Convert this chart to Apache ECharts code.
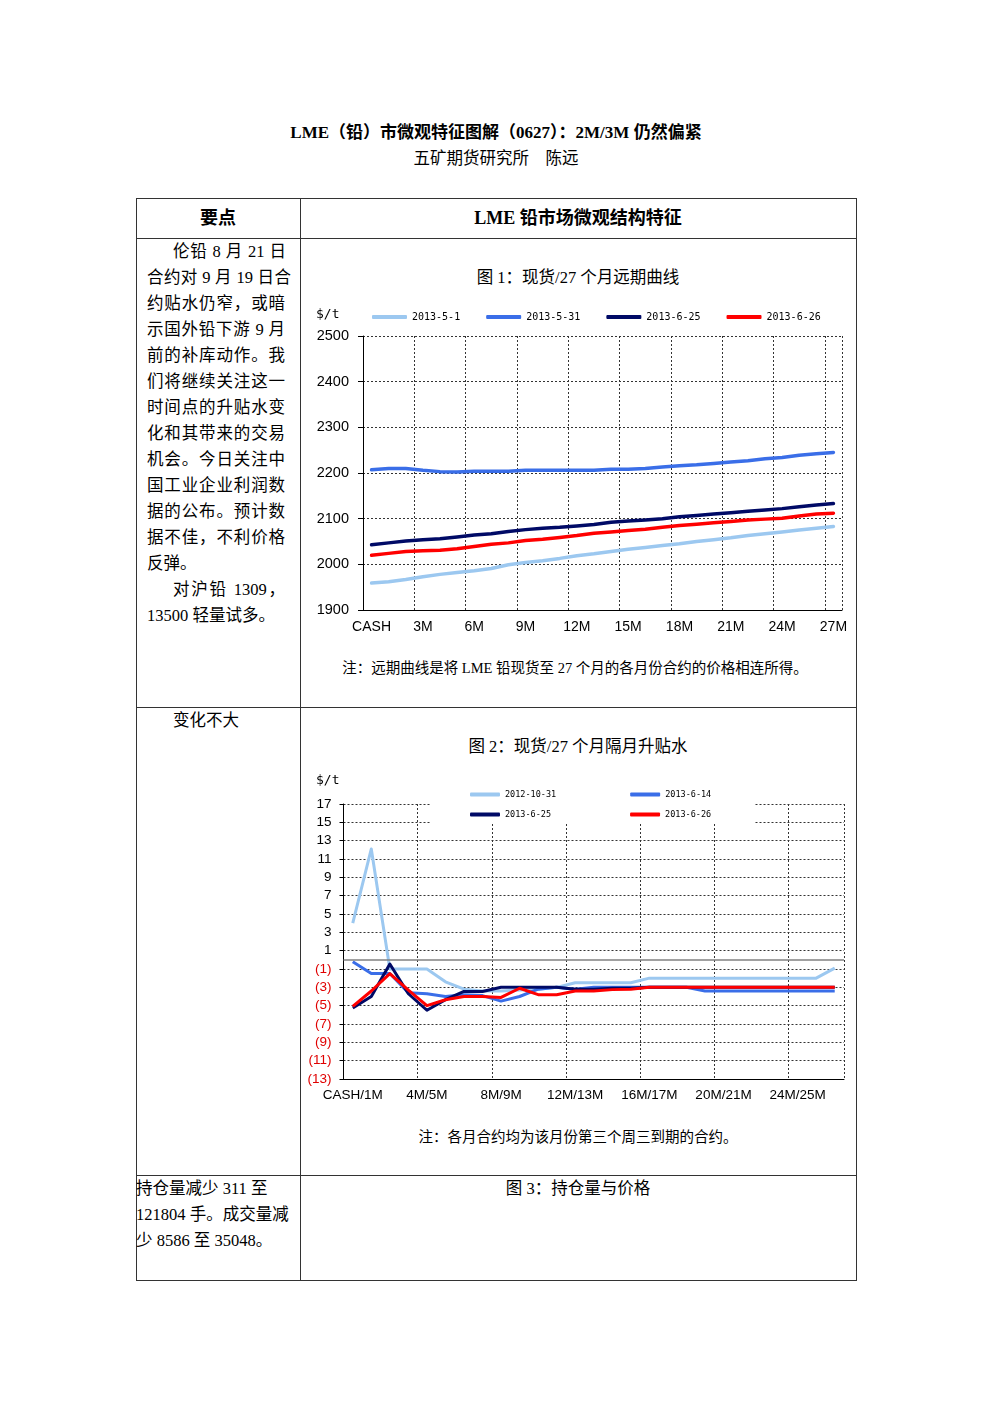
<!DOCTYPE html>
<html><head><meta charset="utf-8">
<script src="https://cdn.jsdelivr.net/npm/echarts@6/dist/echarts.min.js"></script>
<style>
body{margin:0;width:992px;height:1403px;background:#fff;position:relative;font-family:"Liberation Serif","Noto Sans CJK SC",serif;color:#000;overflow:hidden;}
.t{position:absolute;white-space:nowrap;line-height:20px;height:20px;}
.c{text-align:center;}
.j{text-align:justify;text-align-last:justify;}
.hl{position:absolute;height:1px;background:#333;}
.vl{position:absolute;width:1px;background:#333;}
.lt{font-size:16.5px;}
</style>
</head><body>
<div class="t c" style="left:0;width:992px;top:123px;font-size:17px;font-weight:bold;">LME（铅）市微观特征图解（0627）：2M/3M 仍然偏紧</div>
<div class="t c" style="left:0;width:992px;top:149px;font-size:16.5px;">五矿期货研究所　陈远</div>

<div class="hl" style="left:136px;width:720px;top:198px;"></div>
<div class="hl" style="left:136px;width:720px;top:238px;"></div>
<div class="hl" style="left:136px;width:720px;top:707px;"></div>
<div class="hl" style="left:136px;width:720px;top:1175px;"></div>
<div class="hl" style="left:136px;width:721px;top:1280px;"></div>
<div class="vl" style="left:136px;top:198px;height:1082px;"></div>
<div class="vl" style="left:300px;top:198px;height:1082px;"></div>
<div class="vl" style="left:856px;top:198px;height:1082px;"></div>

<div class="t c" style="left:136px;width:164px;top:208px;font-size:18px;font-weight:bold;">要点</div>
<div class="t c" style="left:300px;width:556px;top:208px;font-size:18px;font-weight:bold;">LME 铅市场微观结构特征</div>

<div class="t lt j" style="left:173px;width:113px;top:242px;">伦铅 8 月 21 日</div>
<div class="t lt j" style="left:147px;width:144px;top:268px;">合约对 9 月 19 日合</div>
<div class="t lt j" style="left:147px;width:138px;top:294px;">约贴水仍窄，或暗</div>
<div class="t lt j" style="left:147px;width:138px;top:320px;">示国外铅下游 9 月</div>
<div class="t lt j" style="left:147px;width:138px;top:346px;">前的补库动作。我</div>
<div class="t lt j" style="left:147px;width:138px;top:372px;">们将继续关注这一</div>
<div class="t lt j" style="left:147px;width:138px;top:398px;">时间点的升贴水变</div>
<div class="t lt j" style="left:147px;width:138px;top:424px;">化和其带来的交易</div>
<div class="t lt j" style="left:147px;width:138px;top:450px;">机会。今日关注中</div>
<div class="t lt j" style="left:147px;width:138px;top:476px;">国工业企业利润数</div>
<div class="t lt j" style="left:147px;width:138px;top:502px;">据的公布。预计数</div>
<div class="t lt j" style="left:147px;width:138px;top:528px;">据不佳，不利价格</div>
<div class="t lt" style="left:147px;top:554px;">反弹。</div>
<div class="t lt j" style="left:173px;width:112px;top:580px;">对沪铅 1309，</div>
<div class="t lt" style="left:147px;top:606px;">13500 轻量试多。</div>

<div class="t c" style="left:300px;width:556px;top:268px;font-size:16.5px;">图 1：现货/27 个月远期曲线</div>
<div class="t c" style="left:300px;width:550px;top:658px;font-size:14.5px;">注：远期曲线是将 LME 铅现货至 27 个月的各月份合约的价格相连所得。</div>

<div class="t lt" style="left:173px;top:711px;">变化不大</div>
<div class="t c" style="left:300px;width:556px;top:737px;font-size:16.5px;">图 2：现货/27 个月隔月升贴水</div>
<div class="t c" style="left:300px;width:556px;top:1127px;font-size:14.5px;">注：各月合约均为该月份第三个周三到期的合约。</div>

<div class="t lt" style="left:136px;top:1179px;">持仓量减少 311 至</div>
<div class="t lt" style="left:136px;top:1205px;">121804 手。成交量减</div>
<div class="t lt" style="left:136px;top:1231px;">少 8586 至 35048。</div>
<div class="t c" style="left:300px;width:556px;top:1179px;font-size:16.5px;">图 3：持仓量与价格</div>

<div id="c1" style="position:absolute;left:301px;top:300px;width:554px;height:345px;"></div>
<div id="c2" style="position:absolute;left:301px;top:770px;width:554px;height:340px;"></div>

<script>
// ---------- Figure 1 data ----------
const months1 = ['CASH','1M','2M','3M','4M','5M','6M','7M','8M','9M','10M','11M','12M','13M','14M','15M','16M','17M','18M','19M','20M','21M','22M','23M','24M','25M','26M','27M'];
const curve_20130501 = [1959,1962,1967,1973,1978,1982,1986,1991,1999,2004,2008,2013,2019,2023,2028,2033,2037,2041,2045,2050,2054,2058,2063,2067,2071,2075,2079,2083];
const curve_20130531 = [2207,2210,2210,2206,2203,2202,2204,2204,2204,2206,2206,2206,2206,2206,2208,2208,2210,2213,2216,2218,2221,2224,2227,2231,2234,2239,2242,2245];
const curve_20130625 = [2043,2047,2051,2054,2056,2060,2064,2067,2072,2076,2079,2081,2084,2087,2092,2095,2097,2100,2104,2107,2110,2113,2116,2119,2122,2126,2130,2133];
const curve_20130626 = [2020,2024,2028,2030,2031,2034,2039,2044,2047,2052,2055,2059,2063,2068,2071,2074,2077,2081,2085,2088,2091,2094,2097,2099,2101,2106,2110,2112];
const names1 = ['2013-5-1','2013-5-31','2013-6-25','2013-6-26'];

// ---------- Figure 2 data ----------
const spreads2 = ['CASH/1M','1M/2M','2M/3M','3M/4M','4M/5M','5M/6M','6M/7M','7M/8M','8M/9M','9M/10M','10M/11M','11M/12M','12M/13M','13M/14M','14M/15M','15M/16M','16M/17M','17M/18M','18M/19M','19M/20M','20M/21M','21M/22M','22M/23M','23M/24M','24M/25M','25M/26M','26M/27M'];
const spread_20121031 = [4.0,12.1,-1.0,-1.0,-1.0,-2.4,-3.2,-3.4,-3.4,-3.3,-3.2,-3.0,-2.5,-2.5,-2.5,-2.5,-2.0,-2.0,-2.0,-2.0,-2.0,-2.0,-2.0,-2.0,-2.0,-2.0,-0.9];
const spread_20130614 = [-0.2,-1.5,-1.5,-3.6,-3.7,-4.0,-3.8,-3.9,-4.5,-4.0,-3.2,-3.0,-3.2,-3.0,-3.0,-3.0,-3.0,-3.0,-3.0,-3.4,-3.4,-3.4,-3.4,-3.4,-3.4,-3.4,-3.4];
const spread_20130625 = [-5.25,-4.0,-0.45,-3.7,-5.5,-4.35,-3.45,-3.45,-3.0,-3.0,-3.0,-3.0,-3.2,-3.2,-3.1,-3.1,-3.0,-3.0,-3.0,-3.0,-3.0,-3.0,-3.0,-3.0,-3.0,-3.0,-3.0];
const spread_20130626 = [-5.07,-3.4,-1.5,-3.3,-5.0,-4.35,-4.0,-4.0,-4.1,-3.1,-3.8,-3.8,-3.4,-3.4,-3.25,-3.2,-3.0,-3.0,-3.0,-3.0,-3.0,-3.0,-3.0,-3.0,-3.0,-3.0,-3.0];
const names2 = ['2012-10-31','2013-6-14','2013-6-25','2013-6-26'];

const colors = ['#9cc8f0','#3a6ee8','#000a66','#ff0000'];
const grid2 = {type:[2,2], color:'#333', width:1};

const c1 = echarts.init(document.getElementById('c1'), null, {renderer:'canvas'});
c1.setOption({
  animation:false,
  textStyle:{fontFamily:'Liberation Sans'},
  color:colors,
  grid:{left:62,right:13,top:36,bottom:35},
  legend:{left:66,top:7,itemWidth:35,itemHeight:4,itemGap:26,icon:'roundRect',
    textStyle:{fontFamily:'DejaVu Sans Mono',fontSize:10,color:'#000'},data:names1},
  graphic:[{type:'text',left:15,top:8,style:{text:'$/t',font:'13px "DejaVu Sans Mono"',fill:'#000'}}],
  xAxis:{type:'category',data:months1,boundaryGap:true,
    axisLine:{lineStyle:{color:'#000',width:1}},
    axisTick:{interval:function(i){return i%3===0;},length:5,lineStyle:{color:'#000'}},
    axisLabel:{interval:2,color:'#000',fontSize:14,margin:10},
    splitLine:{show:true,interval:function(i){return i%3===0;},lineStyle:grid2}},
  yAxis:{type:'value',min:1900,max:2500,interval:100,
    axisLine:{show:true,lineStyle:{color:'#000'}},
    axisTick:{show:true,length:5,lineStyle:{color:'#000'}},
    axisLabel:{color:'#000',fontSize:14.5,margin:14,formatter:function(v){return String(v);}},
    splitLine:{lineStyle:grid2}},
  series:[
    {name:names1[0],type:'line',data:curve_20130501},
    {name:names1[1],type:'line',data:curve_20130531},
    {name:names1[2],type:'line',data:curve_20130625},
    {name:names1[3],type:'line',data:curve_20130626}
  ].map(s=>Object.assign(s,{symbol:'none',lineStyle:{width:3.5,cap:'round',join:'round'}}))
});

const c2 = echarts.init(document.getElementById('c2'), null, {renderer:'canvas'});
const s2 = [
  {name:names2[0],type:'line',data:spread_20121031,
    markLine:{silent:true,symbol:['none','none'],label:{show:false},
      lineStyle:{color:'#808080',type:'solid',width:1.5},data:[{yAxis:0}]}},
  {name:names2[1],type:'line',data:spread_20130614},
  {name:names2[2],type:'line',data:spread_20130625},
  {name:names2[3],type:'line',data:spread_20130626}
].map(s=>Object.assign(s,{symbol:'none',lineStyle:{width:3,join:'round'}}));
c2.setOption({
  animation:false,
  textStyle:{fontFamily:'Liberation Sans'},
  color:colors,
  grid:{left:42.5,right:11,top:34,bottom:31},
  legend:[
    {left:164,top:15,itemWidth:30,itemHeight:4,itemGap:74,icon:'roundRect',
      textStyle:{fontFamily:'DejaVu Sans Mono',fontSize:8.5,color:'#000'},data:[names2[0],names2[1]]},
    {left:164,top:35,itemWidth:30,itemHeight:4,itemGap:79,icon:'roundRect',
      textStyle:{fontFamily:'DejaVu Sans Mono',fontSize:8.5,color:'#000'},data:[names2[2],names2[3]]}
  ],
  graphic:[
    {type:'rect',z:1,shape:{x:130,y:0,width:324,height:54},style:{fill:'#fff'}},
    {type:'text',left:15,top:4,style:{text:'$/t',font:'13px "DejaVu Sans Mono"',fill:'#000'}}
  ],
  xAxis:{type:'category',data:spreads2,boundaryGap:true,
    axisLine:{onZero:false,lineStyle:{color:'#000'}},
    axisTick:{interval:function(i){return i%4===0;},length:5,lineStyle:{color:'#000'}},
    axisLabel:{interval:3,color:'#000',fontSize:13.5,margin:9},
    splitLine:{show:true,interval:function(i){return i%4===0;},lineStyle:grid2}},
  yAxis:{type:'value',min:-13,max:17,interval:2,
    axisLine:{show:true,lineStyle:{color:'#000'}},
    axisTick:{show:true,length:4,lineStyle:{color:'#000'}},
    axisLabel:{color:'#000',fontSize:13.5,margin:12,
      formatter:function(v){return v<0 ? '{r|('+(-v)+')}' : String(v);},
      rich:{r:{color:'#e00000',fontSize:13.5,fontFamily:'Liberation Sans'}}},
    splitLine:{lineStyle:grid2}},
  series:s2
});
</script>
</body></html>
